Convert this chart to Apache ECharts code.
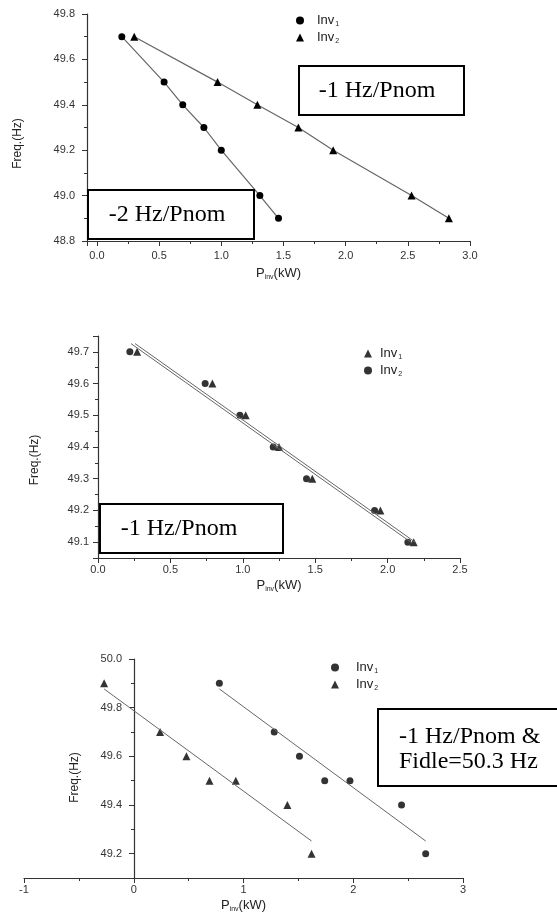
<!DOCTYPE html>
<html>
<head>
<meta charset="utf-8">
<script src="https://cdn.jsdelivr.net/npm/echarts@6/dist/echarts.min.js"></script>
<style>
html,body{margin:0;padding:0;background:#fff;}
#c{width:557px;height:917px;}
</style>
</head>
<body>
<div id="c"></div>
<script>
// ---- Chart 1 (droop -1 / -2 Hz/Pnom) ----
const c1Freq = [49.7, 49.5, 49.4, 49.3, 49.2, 49.0, 48.9];
const c1Inv1P = [0.20, 0.54, 0.69, 0.86, 1.00, 1.31, 1.46];
const c1Inv2P = [0.30, 0.97, 1.29, 1.62, 1.90, 2.53, 2.83];
// ---- Chart 2 (-1 Hz/Pnom, both inverters) ----
const c2Freq = [49.7, 49.6, 49.5, 49.4, 49.3, 49.2, 49.1];
const c2Inv1P = [0.27, 0.79, 1.02, 1.25, 1.48, 1.95, 2.18];
const c2Inv2P = [0.22, 0.74, 0.98, 1.21, 1.44, 1.91, 2.14];
const c2FitInv1 = [[0.256, 49.726], [2.19, 49.10]];
const c2FitInv2 = [[0.228, 49.726], [2.16, 49.10]];
// ---- Chart 3 (-1 Hz/Pnom & Fidle=50.3 Hz) ----
const c3Inv1Freq = [49.9, 49.7, 49.6, 49.5, 49.5, 49.4, 49.2];
const c3Inv1P = [0.78, 1.28, 1.51, 1.74, 1.97, 2.44, 2.66];
const c3Inv2Freq = [49.9, 49.7, 49.6, 49.5, 49.5, 49.4, 49.2];
const c3Inv2P = [-0.27, 0.24, 0.48, 0.69, 0.93, 1.40, 1.62];
const c3FitInv1 = [[0.78, 49.877], [2.66, 49.252]];
const c3FitInv2 = [[-0.27, 49.877], [1.62, 49.252]];

const zip = (xs, ys) => xs.map((x, i) => [x, ys[i]]);

const SANS = 'Liberation Sans, Arial, sans-serif';
const SERIF = 'Liberation Serif, Times New Roman, serif';
const AXC = '#333';

const legendNames = {
  c1a: ['Inv', '1'], c1b: ['Inv', '2'],
  c2a: ['Inv', '1'], c2b: ['Inv', '2'],
  c3a: ['Inv', '1'], c3b: ['Inv', '2']
};
const legendRich = {
  n: {fontSize: 13, fontFamily: SANS, color: '#222'},
  s: {fontSize: 7, fontFamily: SANS, color: '#222', padding: [8, 0, 0, 1]}
};
function legendFmt(name) {
  const p = legendNames[name];
  return '{n|' + p[0] + '}{s|' + p[1] + '}';
}
function mkLegend(left, top, items, textPad) {
  return {
    orient: 'vertical', left: left, top: top,
    itemWidth: 8, itemHeight: 8, itemGap: 3,
    selectedMode: false,
    data: items,
    formatter: legendFmt,
    textStyle: {rich: legendRich, padding: [0, 0, 0, textPad]}
  };
}

function stepFmt(step, dec) {
  return v => {
    const r = Math.round(v / step) * step;
    if (Math.abs(r - v) > 1e-6) return '';
    return r.toFixed(dec);
  };
}

// cfg: {min, max, interval?, splitNumber?, step, dec}
function xAx(gi, cfg, labelMargin, nameGap) {
  const ax = {
    gridIndex: gi, type: 'value', min: cfg.min, max: cfg.max,
    axisLine: {show: true, onZero: false, lineStyle: {color: AXC, width: 1.2}},
    axisTick: {show: true, length: 5, inside: false, lineStyle: {color: AXC}},
    minorTick: {show: true, splitNumber: 2, length: 3, lineStyle: {color: AXC}},
    splitLine: {show: false},
    axisLabel: {color: '#333', fontSize: 11, fontFamily: SANS, margin: labelMargin,
                formatter: stepFmt(cfg.step, cfg.dec)},
    name: '{a|P}{s|inv}{a|(kW)}',
    nameLocation: 'middle', nameGap: nameGap, nameMoveOverlap: false,
    nameTextStyle: {
      rich: {
        a: {fontSize: 13, fontFamily: SANS, color: '#222'},
        s: {fontSize: 7, fontFamily: SANS, color: '#222', padding: [8, 0, 0, 0]}
      }
    }
  };
  if (cfg.interval) ax.interval = cfg.interval; else ax.splitNumber = cfg.splitNumber;
  return ax;
}
function yAx(gi, cfg, labelMargin, nameGap, namePadRight, offset) {
  const ax = {
    gridIndex: gi, type: 'value', min: cfg.min, max: cfg.max, offset: offset || 0,
    axisLine: {show: true, onZero: false, lineStyle: {color: AXC, width: 1.2}},
    axisTick: {show: true, length: 5, lineStyle: {color: AXC}},
    minorTick: {show: true, splitNumber: 2, length: 3, lineStyle: {color: AXC}},
    splitLine: {show: false},
    axisLabel: {color: '#333', fontSize: 11, fontFamily: SANS, margin: labelMargin,
                formatter: stepFmt(cfg.step, cfg.dec)},
    name: 'Freq.(Hz)', nameLocation: 'middle', nameGap: nameGap, nameMoveOverlap: false,
    nameTextStyle: {fontSize: 12, fontFamily: SANS, color: '#222', padding: [0, namePadRight, 0, 0]}
  };
  if (cfg.interval) ax.interval = cfg.interval; else ax.splitNumber = cfg.splitNumber;
  return ax;
}

function box(x, y, w, h, lines, tx, ty, align) {
  return {
    type: 'group', children: [
      {type: 'rect', shape: {x: x, y: y, width: w, height: h},
       style: {fill: '#fff', stroke: '#000', lineWidth: 2}, z: 100},
      {type: 'text', x: tx, y: ty, z: 101,
       style: {text: lines, fill: '#000', font: '24px ' + SERIF, align: align || 'center',
               verticalAlign: 'middle', lineHeight: 25}}
    ]
  };
}

const chart = echarts.init(document.getElementById('c'), null, {renderer: 'canvas'});
chart.setOption({
  animation: false,
  backgroundColor: '#fff',
  grid: [
    {left: 87, top: 14, width: 383, height: 227, outerBoundsMode: 'none', containLabel: false},
    {left: 98, top: 336, width: 362, height: 222, outerBoundsMode: 'none', containLabel: false},
    {left: 24, top: 659, width: 439, height: 219, outerBoundsMode: 'none', containLabel: false}
  ],
  xAxis: [
    xAx(0, {min: -0.08, max: 3.0, splitNumber: 6, step: 0.5, dec: 1}, 9, 25),
    xAx(1, {min: 0, max: 2.5, interval: 0.5, step: 0.5, dec: 1}, 6, 20),
    xAx(2, {min: -1, max: 3, interval: 1, step: 1, dec: 0}, 6, 20)
  ],
  yAxis: [
    yAx(0, {min: 48.8, max: 49.8, interval: 0.2, step: 0.2, dec: 1}, 12, 63, 32),
    yAx(1, {min: 49.05, max: 49.75, splitNumber: 7, step: 0.1, dec: 1}, 9, 57, 26),
    yAx(2, {min: 49.1, max: 50.0, splitNumber: 4, step: 0.2, dec: 1}, 12, 53, 18, -110)
  ],
  legend: [
    mkLegend(291, 9, [{name: 'c1a', icon: 'circle'}, {name: 'c1b', icon: 'triangle'}], 8),
    mkLegend(359, 342, [{name: 'c2a', icon: 'triangle'}, {name: 'c2b', icon: 'circle'}], 3),
    mkLegend(326, 656, [{name: 'c3a', icon: 'circle'}, {name: 'c3b', icon: 'triangle'}], 12)
  ],
  series: [
    {name: 'c1a', type: 'line', xAxisIndex: 0, yAxisIndex: 0, data: zip(c1Inv1P, c1Freq),
     symbol: 'circle', symbolSize: 7, itemStyle: {color: '#000'}, lineStyle: {color: '#666', width: 1.2}},
    {name: 'c1b', type: 'line', xAxisIndex: 0, yAxisIndex: 0, data: zip(c1Inv2P, c1Freq),
     symbol: 'triangle', symbolSize: 8, itemStyle: {color: '#000'}, lineStyle: {color: '#666', width: 1.2}},

    {name: 'c2fitb', type: 'line', xAxisIndex: 1, yAxisIndex: 1, data: c2FitInv2, symbol: 'none',
     lineStyle: {color: '#666', width: 1}, silent: true},
    {name: 'c2fita', type: 'line', xAxisIndex: 1, yAxisIndex: 1, data: c2FitInv1, symbol: 'none',
     lineStyle: {color: '#666', width: 1}, silent: true},
    {name: 'c2b', type: 'scatter', xAxisIndex: 1, yAxisIndex: 1, data: zip(c2Inv2P, c2Freq),
     symbol: 'circle', symbolSize: 7, itemStyle: {color: '#000'}},
    {name: 'c2a', type: 'scatter', xAxisIndex: 1, yAxisIndex: 1, data: zip(c2Inv1P, c2Freq),
     symbol: 'triangle', symbolSize: 8, itemStyle: {color: '#000'}},

    {name: 'c3fita', type: 'line', xAxisIndex: 2, yAxisIndex: 2, data: c3FitInv1, symbol: 'none',
     lineStyle: {color: '#666', width: 1}, silent: true},
    {name: 'c3fitb', type: 'line', xAxisIndex: 2, yAxisIndex: 2, data: c3FitInv2, symbol: 'none',
     lineStyle: {color: '#666', width: 1}, silent: true},
    {name: 'c3a', type: 'scatter', xAxisIndex: 2, yAxisIndex: 2, data: zip(c3Inv1P, c3Inv1Freq),
     symbol: 'circle', symbolSize: 7, itemStyle: {color: '#000'}},
    {name: 'c3b', type: 'scatter', xAxisIndex: 2, yAxisIndex: 2, data: zip(c3Inv2P, c3Inv2Freq),
     symbol: 'triangle', symbolSize: 8, itemStyle: {color: '#000'}}
  ],
  graphic: [
    box(299, 66, 165, 49, '-1 Hz/Pnom', 377, 91),
    box(88, 190, 166, 49, '-2 Hz/Pnom', 167, 215),
    box(100, 504, 183, 49, '-1 Hz/Pnom', 179, 529),
    box(378, 709, 185, 77, '-1 Hz/Pnom &\nFidle=50.3 Hz', 399, 749, 'left')
  ]
});
</script>
</body>
</html>
